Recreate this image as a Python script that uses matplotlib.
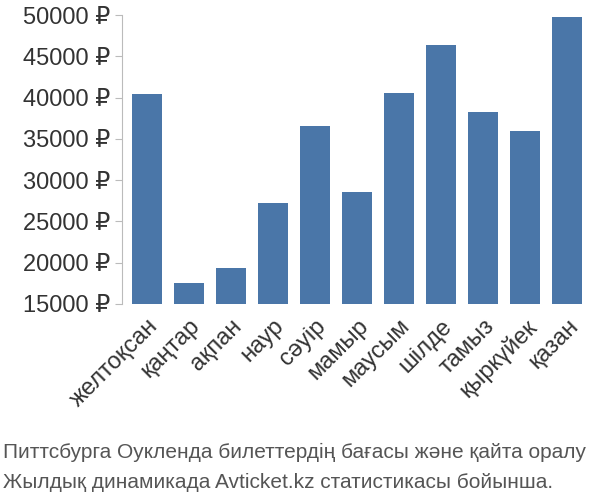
import matplotlib
matplotlib.use("Agg")
import matplotlib.pyplot as plt

months = ["желтоқсан","қаңтар","ақпан","наур","сәуір","мамыр","маусым","шілде","тамыз","қыркүйек","қазан"]
prices = [40400,17600,19400,27200,36500,28600,40600,46400,38300,36000,49700]
yticks = [15000,20000,25000,30000,35000,40000,45000,50000]

plt.rcParams['font.family'] = ['Liberation Sans','DejaVu Sans']
fig = plt.figure(figsize=(6,5), dpi=100)
ax = fig.add_axes([0.203,0.392,0.784,0.578])
ax.bar(range(len(months)), prices, width=0.72, color="#4a76a8")
ax.set_ylim(15000,50000)
ax.set_xlim(-0.6,len(months)-0.4)
ax.set_yticks(yticks)
ax.set_yticklabels([f"{v} ₽" for v in yticks], fontsize=17, color="#333333")
ax.set_xticks(range(len(months)))
ax.set_xticklabels(months, rotation=45, ha="right", rotation_mode="anchor", fontsize=17, color="#333333")
for s in ["top","right","bottom"]:
    ax.spines[s].set_visible(False)
ax.spines["left"].set_color("#bbbbbb")
ax.tick_params(axis="y", color="#bbbbbb", length=5)
ax.tick_params(axis="x", length=0, pad=8)
fig.text(0.005,0.085,"Питтсбурга Оукленда билеттердің бағасы және қайта оралу", fontsize=15, color="#555555")
fig.text(0.005,0.025,"Жылдық динамикада Avticket.kz статистикасы бойынша.", fontsize=15, color="#555555")
fig.savefig("out.png")
